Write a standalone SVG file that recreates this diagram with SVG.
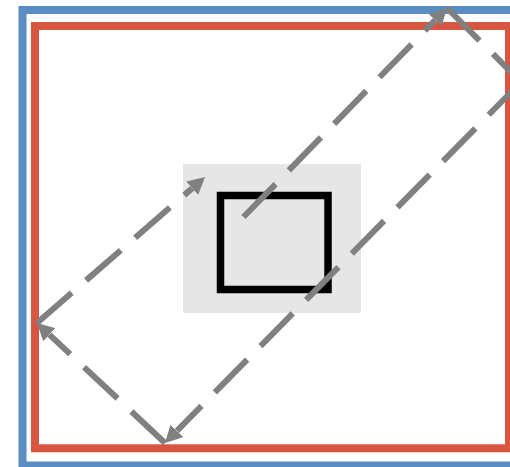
<svg xmlns="http://www.w3.org/2000/svg" width="510" height="467" viewBox="0 0 510 467">
  <style>
    .frame { fill: none; stroke-width: 8; }
    .conn { fill: none; stroke: #808080; stroke-width: 6; stroke-dasharray: 46 19; stroke-linecap: butt; }
  </style>
  <defs>
    <marker id="arrow" markerUnits="userSpaceOnUse" viewBox="0 0 17 18" refX="0" refY="9" markerWidth="17" markerHeight="18" orient="auto">
      <path d="M0,0 L17,9 L0,18 Z" fill="#808080"/>
    </marker>
  </defs>
  <rect width="510" height="467" fill="#ffffff"/>
  <g id="outer-frame">
    <rect class="frame" x="22.5" y="10" width="500" height="455.5" stroke="#5b8dc5"/>
  </g>
  <g id="inner-frame">
    <rect class="frame" x="35" y="26" width="474" height="422.3" stroke="#d85541"/>
  </g>
  <g id="grey-area">
    <rect x="183" y="164" width="178" height="149" fill="#e6e6e6"/>
  </g>
  <g id="black-box">
    <rect x="220.5" y="195.5" width="107.5" height="94" fill="none" stroke="#000000" stroke-width="7.5"/>
  </g>
  <g id="connectors">
    <path class="conn" d="M243.5,217 L435.1,20.2" marker-end="url(#arrow)"/>
    <path class="conn" d="M447,8 L521,82"/>
    <path class="conn" d="M521,82 L176.9,430.9" marker-end="url(#arrow)"/>
    <path class="conn" d="M165,443 L49.4,334.6" marker-end="url(#arrow)"/>
    <path class="conn" d="M37,323 L192.2,188.2" marker-end="url(#arrow)"/>
  </g>
</svg>
